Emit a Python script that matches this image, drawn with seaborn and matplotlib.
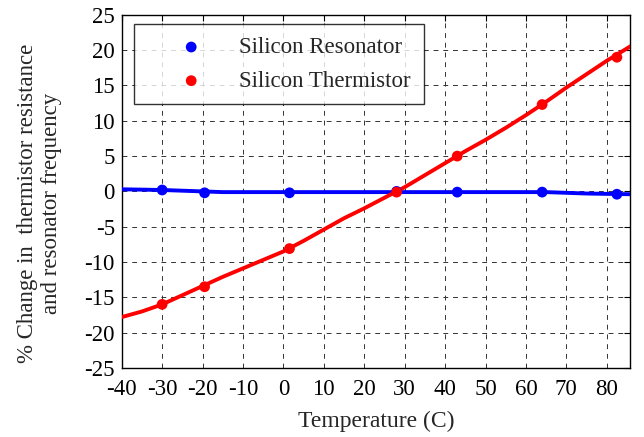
import matplotlib
matplotlib.use("Agg")
import matplotlib.pyplot as plt
import seaborn as sns
import pandas as pd

# measured points
temps = [-30, -19.5, 1.5, 28, 43, 64, 82.5]
resonator = [0.2, -0.2, -0.2, 0.0, -0.1, -0.1, -0.4]
thermistor = [-16.0, -13.5, -8.1, -0.1, 5.0, 12.3, 19.0]

# fitted curves
red_fit_t = [-40, -35, -30, -25, -20, -15, -10, -5, 0, 5, 10, 15, 20, 25, 30, 35, 40, 45, 50, 55, 60, 65, 70, 75, 80, 86]
red_fit = [-17.8, -17.0, -16.0, -14.7, -13.4, -12.1, -10.9, -9.7, -8.5, -7.0, -5.4, -3.8, -2.4, -0.9, 0.6, 2.3, 4.0, 5.7, 7.3, 9.0, 10.8, 12.7, 14.7, 16.6, 18.5, 20.6]
blue_fit_t = [-40, -30, -20, -15, 0, 20, 40, 60, 65, 70, 75, 80, 86]
blue_fit = [0.3, 0.2, 0.0, -0.1, -0.1, -0.1, -0.1, -0.1, -0.1, -0.2, -0.3, -0.35, -0.4]

x_ticks = list(range(-40, 81, 10))
y_ticks = list(range(-25, 26, 5))

sns.set_style("white")
plt.rcParams['font.family'] = ['Liberation Serif', 'DejaVu Serif']
plt.rcParams['axes.unicode_minus'] = False

fig = plt.figure(figsize=(6.44, 4.37), dpi=100)
ax = fig.add_axes([0.189, 0.158, 0.789, 0.808])

pts = pd.DataFrame({'t': temps, 'res': resonator, 'th': thermistor})

sns.lineplot(x=blue_fit_t, y=blue_fit, ax=ax, color='#0000ff', linewidth=2.8, zorder=3)
sns.lineplot(x=red_fit_t, y=red_fit, ax=ax, color='#ff0000', linewidth=2.8, zorder=4)
sns.scatterplot(data=pts, x='t', y='res', ax=ax, color='#0000ff', s=60,
                edgecolor='none', label='Silicon Resonator', zorder=5)
sns.scatterplot(data=pts, x='t', y='th', ax=ax, color='#ff0000', s=60,
                edgecolor='none', label='Silicon Thermistor', zorder=5)

ax.set_xlim(-40, 85.7)
ax.set_ylim(-25, 25)
ax.set_xticks(x_ticks)
ax.set_yticks(y_ticks)
ax.tick_params(direction='in', top=True, right=True, length=4, width=0.8,
               labelsize=16.5, colors='black')
ax.tick_params(axis='x', pad=8)
ax.tick_params(axis='y', pad=5)
ax.grid(True, color='#333333', linestyle=(0, (5, 5)), linewidth=0.7)
for sp in ax.spines.values():
    sp.set_color('black')
    sp.set_linewidth(1.0)

ax.set_xlabel('Temperature (C)', fontsize=17, labelpad=8)
ax.set_ylabel('% Change in  thermistor resistance\nand resonator frequency',
              fontsize=16.5, linespacing=1.15)
ax.yaxis.set_label_coords(-0.118, 0.465)

leg = ax.legend(loc='upper left', bbox_to_anchor=(0.024, 0.973), fontsize=16.5,
                frameon=True, fancybox=False, edgecolor='black',
                borderpad=0.55, labelspacing=0.55, handletextpad=0.15,
                handlelength=3.9, borderaxespad=0.0)
leg.get_frame().set_linewidth(1.0)
leg.set_zorder(6)

fig.savefig('out.png', dpi=100)
